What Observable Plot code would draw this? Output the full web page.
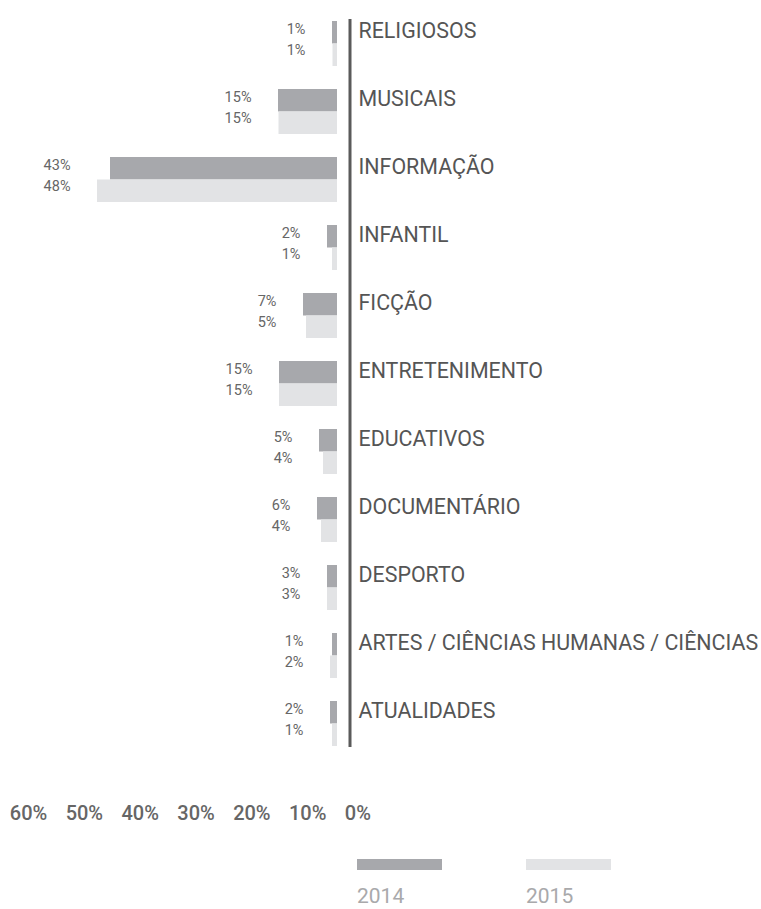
<!DOCTYPE html>
<html>
<head>
<meta charset="utf-8">
<script src="https://cdn.jsdelivr.net/npm/d3@7"></script>
<script src="https://cdn.jsdelivr.net/npm/@observablehq/plot@0.6"></script>
<style>
  html, body { margin: 0; padding: 0; background: #fff; }
  #chart { width: 761px; font-family: Roboto, "Noto Sans", sans-serif; }
  svg { display: block; }
  .legend { display: flex; padding-left: 357px; height: 50px; }
  .legend .item { width: 169px; }
  .legend .sw { width: 85px; height: 11px; margin-top: 1px; }
  .legend .lb { font-size: 21px; color: #a9a9ab; line-height: 18px; margin-top: 17px; }
</style>
</head>
<body>
<div id="chart"></div>
<script>
const categories = ["RELIGIOSOS", "MUSICAIS", "INFORMAÇÃO", "INFANTIL", "FICÇÃO", "ENTRETENIMENTO", "EDUCATIVOS", "DOCUMENTÁRIO", "DESPORTO", "ARTES / CIÊNCIAS HUMANAS / CIÊNCIAS", "ATUALIDADES"];
// shares printed next to the bars
const label2014 = [1, 15, 43, 2, 7, 15, 5, 6, 3, 1, 2];
const label2015 = [1, 15, 48, 1, 5, 15, 4, 4, 3, 2, 1];
// bar lengths as drawn in the picture (percent units)
const bar2014 = [1.0, 11.8, 45.4, 2.0, 6.8, 11.6, 3.6, 4.0, 2.0, 1.0, 1.4];
const bar2015 = [0.9, 11.7, 48.0, 1.0, 6.2, 11.6, 2.8, 3.2, 2.0, 1.4, 1.0];
const axisTicks = [60, 50, 40, 30, 20, 10, 0];
const years = ["2014", "2015"];
const colors = ["#a7a8ac", "#e2e3e5"];

const rows = categories.map((cat, i) => ({
  cat, b14: bar2014[i], b15: bar2015[i], l14: label2014[i], l15: label2015[i]
}));

const font = {fontFamily: "Roboto, 'Noto Sans', sans-serif", background: "transparent", overflow: "visible"};

const main = Plot.plot({
  width: 761,
  height: 768,
  marginTop: 19,
  marginBottom: 21,
  marginLeft: 37,
  marginRight: 424,
  style: font,
  x: {domain: [60, 0], axis: null},
  y: {domain: categories, axis: null, paddingInner: 0.341, paddingOuter: 0},
  marks: [
    Plot.barX(rows, {y: "cat", x1: 0, x2: "b14", fill: colors[0], insetBottom: 22.5}),
    Plot.barX(rows, {y: "cat", x1: 0, x2: "b15", fill: colors[1], insetTop: 22.5}),
    Plot.ruleX([0], {stroke: "#5a5a5a", strokeWidth: 3, dx: 12.5}),
    Plot.text(rows, {y: "cat", x: d => Math.max(d.b14, d.b15), text: d => d.l14 + "%", textAnchor: "end", dx: -27, dy: -15, fontSize: 14.5, fill: "#666"}),
    Plot.text(rows, {y: "cat", x: d => Math.max(d.b14, d.b15), text: d => d.l15 + "%", textAnchor: "end", dx: -27, dy: 6, fontSize: 14.5, fill: "#666"}),
    Plot.text(rows, {y: "cat", x: 0, text: "cat", textAnchor: "start", dx: 21, dy: -13, fontSize: 21.4, fontWeight: 400, fill: "#555"})
  ]
});

const axis = Plot.plot({
  width: 761,
  height: 90,
  margin: 0,
  style: font,
  x: {domain: [60, 0], range: [9.3, 344.3], axis: null},
  marks: [
    Plot.text(axisTicks, {x: d => d, text: d => d + "%", textAnchor: "start", fontSize: 20, fontWeight: 500, fill: "#666"})
  ]
});

const chart = document.getElementById("chart");
chart.appendChild(main);
chart.appendChild(axis);

const legend = document.createElement("div");
legend.className = "legend";
years.forEach((y, i) => {
  const item = document.createElement("div");
  item.className = "item";
  const sw = document.createElement("div");
  sw.className = "sw";
  sw.style.background = colors[i];
  const lb = document.createElement("div");
  lb.className = "lb";
  lb.textContent = y;
  item.appendChild(sw);
  item.appendChild(lb);
  legend.appendChild(item);
});
chart.appendChild(legend);
</script>
</body>
</html>
